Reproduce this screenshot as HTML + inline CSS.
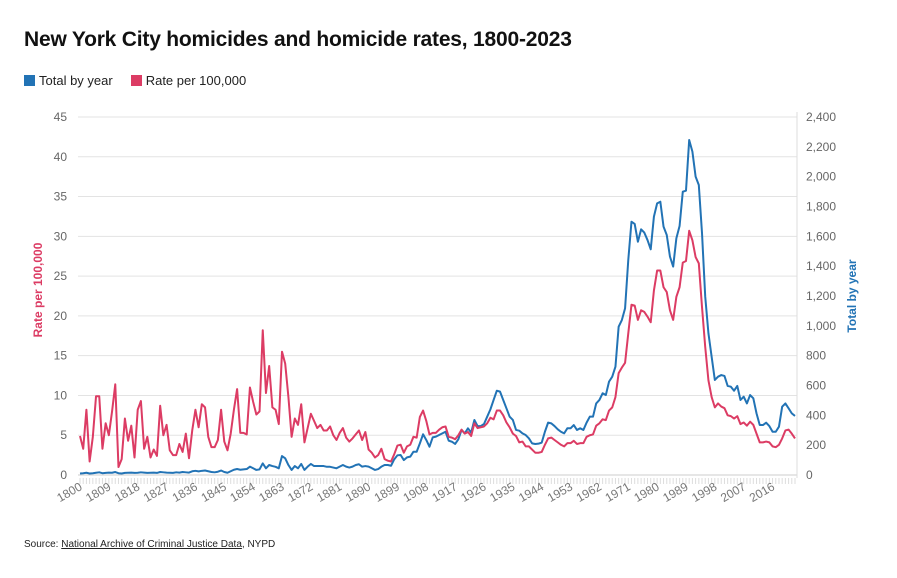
<!DOCTYPE html>
<html><head><meta charset="utf-8">
<style>
body{margin:0;background:#fff;width:897px;height:578px;overflow:hidden;font-family:"Liberation Sans",sans-serif;}
.wrap{position:relative;width:897px;height:578px;}
h1{position:absolute;left:24px;top:28px;margin:0;font-size:21px;font-weight:bold;color:#111;letter-spacing:-0.2px}
.legend{position:absolute;left:24px;top:73px;font-size:13px;color:#222;display:flex;gap:18px}
.legend span.sw{display:inline-block;width:11px;height:11px;margin-right:4px;vertical-align:-1px}
.src{position:absolute;left:24px;top:539px;font-size:10px;color:#222}
.src u{text-decoration:underline}
svg{position:absolute;left:0;top:0}
</style></head><body>
<div class="wrap">
<h1>New York City homicides and homicide rates, 1800-2023</h1>
<div class="legend">
<div><span class="sw" style="background:#2273b5"></span>Total by year</div>
<div><span class="sw" style="background:#dc3c64"></span>Rate per 100,000</div>
</div>
<svg id="chart" width="897" height="578"></svg>
<div class="src">Source: <u>National Archive of Criminal Justice Data</u>, NYPD</div>
</div>
<script>
const startYear = 1800;
const rateValues = [4.9,3.3,8.2,1.7,4.8,9.9,9.9,3.3,6.5,5,8,11.4,1,2,7.1,4.3,6.2,2.2,8.2,9.3,3.3,4.8,2.2,3.2,2.4,8.7,5,6.3,3.1,2.5,2.5,3.9,2.9,5.2,2.1,5.6,8.2,6,8.9,8.5,4.8,3.5,3.5,4.4,8.2,4.2,3.1,5.2,8.2,10.8,5.3,5.3,5.1,11,9.2,7.6,8,18.2,10.3,13.7,8.5,8.2,6.4,15.5,14,9.8,4.8,7.1,6.3,8.9,4.1,5.9,7.7,6.8,5.9,6.3,5.6,5.6,6.1,5,4.4,5.3,5.9,4.7,4.2,4.6,5.1,5.6,4.4,5.4,3.2,2.8,2.2,2.5,3.3,2,1.8,1.7,2.6,3.7,3.8,2.8,3.6,3.8,4.8,4.7,7.3,8.1,6.8,5.1,5.3,5.3,5.7,6,6.1,4.8,4.7,4.5,5,5.7,5.2,5.4,4.9,6.5,5.9,6,6.1,6.5,7.2,7,8.1,8.1,7.5,6.6,6,5.2,4.9,4.1,4.2,3.6,3.6,3.2,2.8,2.8,2.9,3.8,4.6,4.7,4.4,4.1,3.8,3.6,4,4,4.3,3.9,4,4,4.8,5,5.1,6.2,6.5,7,6.9,8.1,8.5,9.8,12.8,13.5,14.1,17.8,21.4,21.3,19.5,20.7,20.5,19.9,19.2,23.2,25.7,25.7,23.6,23,20.7,19.5,22.4,23.6,26.7,26.9,30.7,29.5,27.4,26.6,21.1,16.1,11.9,9.8,8.5,9,8.6,8.4,7.5,7.4,7.1,7.4,6.4,6.6,6.2,6.7,6.3,5.2,4.1,4.1,4.2,4.1,3.6,3.5,3.8,4.6,5.6,5.7,5.2,4.6];
const totalValues = [10,12,15,10,12,15,18,12,14,16,15,20,12,10,14,15,16,14,15,18,16,14,15,16,14,20,18,16,15,14,18,16,20,18,16,25,28,24,28,30,25,20,18,22,30,20,15,25,35,40,35,38,40,56,45,34,38,78,45,67,60,55,45,127,112,67,34,60,45,74,34,56,74,60,60,60,60,55,55,50,45,56,67,56,50,56,67,72,56,60,56,45,34,40,56,67,67,62,105,132,134,100,118,123,156,156,212,273,235,190,252,257,268,279,290,230,223,208,239,302,279,313,284,369,328,328,342,391,440,503,565,559,503,447,391,369,302,297,279,268,246,212,208,210,217,290,351,346,328,306,290,279,313,313,335,302,313,302,351,391,391,480,503,548,536,626,659,726,994,1039,1117,1441,1698,1683,1564,1647,1625,1575,1513,1732,1821,1832,1665,1609,1464,1397,1587,1669,1899,1906,2246,2168,2000,1944,1620,1196,950,793,637,659,670,664,597,592,565,597,503,525,480,536,514,413,335,335,351,328,290,290,324,458,480,447,413,396];
const leftTicks = [0,5,10,15,20,25,30,35,40,45];
const rightTicks = [0,200,400,600,800,1000,1200,1400,1600,1800,2000,2200,2400];
const xLabelYears = [1800,1809,1818,1827,1836,1845,1854,1863,1872,1881,1890,1899,1908,1917,1926,1935,1944,1953,1962,1971,1980,1989,1998,2007,2016];

const NS="http://www.w3.org/2000/svg";
const svg=document.getElementById('chart');
const X0=80,X1=795,Y0=475,Y1=117;
const endYear=startYear+rateValues.length-1;
const xs=y=>X0+(y-startYear)*(X1-X0)/(2023-1800);
const yL=v=>Y0-v*(Y0-Y1)/45;
const yR=v=>Y0-v*(Y0-Y1)/2400;
function mk(tag,attrs){const e=document.createElementNS(NS,tag);for(const k in attrs)e.setAttribute(k,attrs[k]);svg.appendChild(e);return e;}

leftTicks.forEach(t=>{
  const g=mk('line',{x1:78,x2:797,y1:yL(t),y2:yL(t),stroke:t===0?'#ccc':'#e3e3e3','stroke-width':1});
  
  
  const tx=mk('text',{x:67,y:yL(t)+4,'text-anchor':'end','font-size':12,fill:'#666','font-family':'Liberation Sans, sans-serif'});
  tx.textContent=t;
  
  
});
rightTicks.forEach(t=>{
  const tx=mk('text',{x:806,y:yR(t)+4,'text-anchor':'start','font-size':12,fill:'#666','font-family':'Liberation Sans, sans-serif'});
  tx.textContent=t.toLocaleString('en-US');
  
  
});
const ra=mk('line',{x1:797,x2:797,y1:112,y2:478,stroke:'#ddd','stroke-width':1});


for(let y=startYear;y<=endYear;y++){
  const tk=mk('line',{x1:xs(y),x2:xs(y),y1:478,y2:484,stroke:'#ddd','stroke-width':1});
  
  
}
xLabelYears.forEach(y=>{
  const x=xs(y)+3,yy=489;
  const tx=mk('text',{x:x,y:yy,'text-anchor':'end','font-size':12,fill:'#777','font-family':'Liberation Sans, sans-serif',transform:`rotate(-30 ${x} ${yy})`});
  tx.textContent=y;
  
  
});
function path(vals,sc,color,name){
  const d=vals.map((v,i)=>(i?'L':'M')+xs(startYear+i).toFixed(2)+','+sc(v).toFixed(2)).join('');
  const p=mk('path',{d:d,fill:'none',stroke:color,'stroke-width':2,'stroke-linejoin':'round'});
  
  
}
path(totalValues,yR,'#2273b5','total-line');
path(rateValues,yL,'#dc3c64','rate-line');
const lt=mk('text',{x:42,y:290,'text-anchor':'middle','font-size':12,'font-weight':'bold',fill:'#dc3c64','font-family':'Liberation Sans, sans-serif',transform:'rotate(-90 42 290)'});
lt.textContent='Rate per 100,000';


const rt=mk('text',{x:856,y:296,'text-anchor':'middle','font-size':12,'font-weight':'bold',fill:'#2273b5','font-family':'Liberation Sans, sans-serif',transform:'rotate(-90 856 296)'});
rt.textContent='Total by year';


</script>
</body></html>
